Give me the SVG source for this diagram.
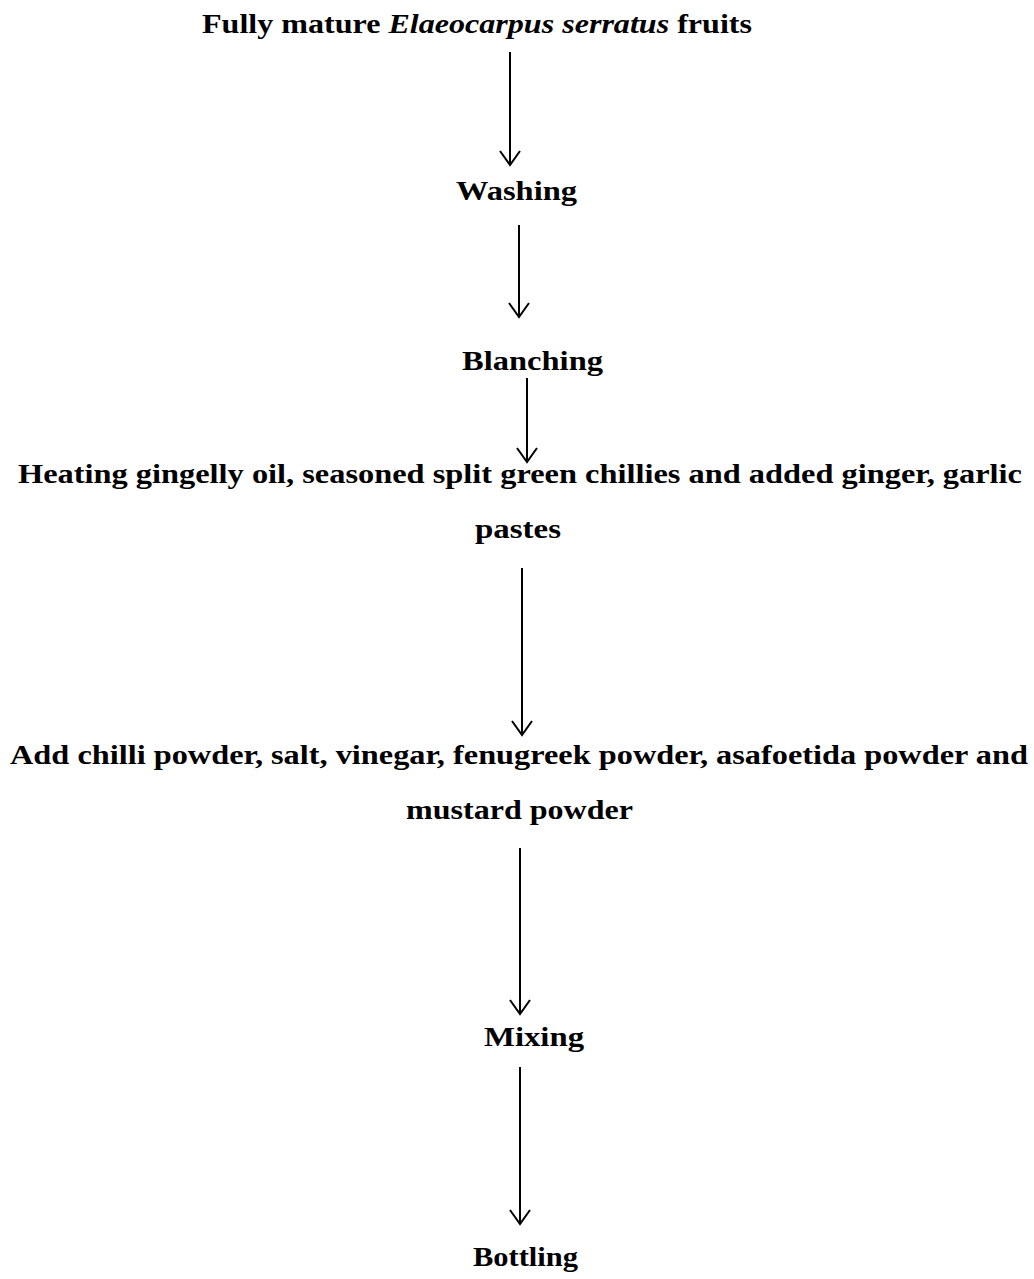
<svg xmlns="http://www.w3.org/2000/svg" width="1034" height="1279" viewBox="0 0 1034 1279">
<style>
text{font-family:"Liberation Serif","Times New Roman",serif;font-weight:bold;font-size:28px;fill:#000}
.c line{stroke:#000;stroke-width:2}
.c path{stroke:#000;stroke-width:2;fill:none}
</style>
<rect width="1034" height="1279" fill="#fff"/>
<g id="n1"><text x="202" y="33" font-size="26" textLength="550" lengthAdjust="spacingAndGlyphs">Fully mature <tspan font-style="italic">Elaeocarpus serratus</tspan> fruits</text></g>
<g id="n2"><text x="456" y="200" font-size="29" textLength="121" lengthAdjust="spacingAndGlyphs">Washing</text></g>
<g id="n3"><text x="462" y="370" font-size="28" textLength="141" lengthAdjust="spacingAndGlyphs">Blanching</text></g>
<g id="n4"><text x="18" y="483" font-size="29" textLength="1004" lengthAdjust="spacingAndGlyphs">Heating  gingelly oil, seasoned split green chillies and added ginger, garlic</text>
<text x="475" y="538" font-size="30" textLength="86" lengthAdjust="spacingAndGlyphs">pastes</text></g>
<g id="n5"><text x="10" y="764" font-size="30" textLength="1018" lengthAdjust="spacingAndGlyphs">Add chilli powder, salt, vinegar, fenugreek powder, asafoetida powder and</text>
<text x="406" y="819" font-size="29" textLength="227" lengthAdjust="spacingAndGlyphs">mustard powder</text></g>
<g id="n6"><text x="484" y="1046" font-size="27" textLength="100" lengthAdjust="spacingAndGlyphs">Mixing</text></g>
<g id="n7"><text x="473" y="1266" font-size="26" textLength="105" lengthAdjust="spacingAndGlyphs">Bottling</text></g>
<g class="c" id="connectors">
<line x1="510" y1="52" x2="510" y2="165"/><path d="M500 151 L510 165 L520 151"/>
<line x1="519" y1="225" x2="519" y2="317"/><path d="M509 303 L519 317 L529 303"/>
<line x1="527" y1="378" x2="527" y2="462"/><path d="M517 448 L527 462 L537 448"/>
<line x1="522" y1="568" x2="522" y2="735"/><path d="M512 721 L522 735 L532 721"/>
<line x1="520" y1="848" x2="520" y2="1014"/><path d="M510 1000 L520 1014 L530 1000"/>
<line x1="520" y1="1067" x2="520" y2="1224"/><path d="M510 1210 L520 1224 L530 1210"/>
</g>
</svg>
